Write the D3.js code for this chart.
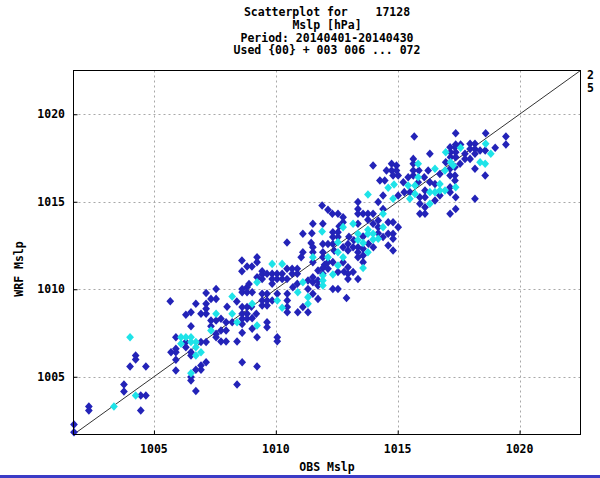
<!DOCTYPE html>
<html><head><meta charset="utf-8">
<script src="https://cdn.jsdelivr.net/npm/d3@7"></script>
<style>body{margin:0;background:#fff}svg{display:block}text{font-family:"DejaVu Sans Mono",monospace;font-weight:bold;font-size:11.5px;fill:#000}</style>
</head><body>
<script>
const titleLines = ["Scatterplot for    17128", "Mslp [hPa]", "Period: 20140401-20140430", "Used {00} + 003 006 ... 072"];
const xLabel = "OBS Mslp";
const yLabel = "WRF Mslp";
const tickValues = [1005, 1010, 1015, 1020];
const axisDomain = [1001.7, 1022.5];
const sideText = ["2", "5"];

// [OBS, WRF] pairs, dark blue series
const darkSeries = [
[1001.72,1002.27],[1001.72,1001.83],[1002.33,1003.30],[1002.33,1003.07],[1003.77,1004.56],[1003.77,1004.16],[1004.25,1006.21],[1004.25,1005.99],[1004.02,1005.59],[1004.67,1005.59],[1004.46,1003.93],[1004.67,1003.93],[1004.46,1003.07],[1005.67,1009.32],[1006.31,1008.54],[1006.52,1008.69],[1006.72,1009.17],[1006.52,1007.89],[1005.70,1006.40],[1005.90,1006.60],[1005.90,1006.40],[1005.90,1005.97],[1005.90,1005.36],[1005.90,1007.26],[1006.31,1006.98],[1006.31,1006.69],[1006.52,1006.40],[1006.52,1006.21],[1006.93,1006.98],[1007.14,1006.98],[1007.14,1005.83],[1006.93,1005.64],[1006.93,1005.40],[1006.72,1005.40],[1006.52,1004.98],[1006.52,1004.79],[1006.72,1004.18],[1007.14,1009.78],[1007.14,1009.17],[1007.14,1008.88],[1007.34,1009.45],[1007.55,1010.02],[1007.55,1009.45],[1006.93,1008.60],[1007.14,1008.60],[1007.34,1008.21],[1007.55,1008.21],[1007.75,1008.31],[1007.34,1007.89],[1007.55,1007.45],[1007.75,1007.64],[1007.96,1007.64],[1007.75,1007.01],[1007.96,1007.01],[1007.55,1007.26],[1008.41,1007.01],[1008.21,1008.12],[1007.96,1008.12],[1008.41,1004.56],[1008.62,1005.83],[1009.23,1005.59],[1008.62,1010.02],[1008.62,1009.83],[1008.82,1010.12],[1008.82,1009.83],[1009.03,1009.83],[1008.62,1008.98],[1008.82,1008.98],[1008.62,1008.60],[1008.82,1008.60],[1008.62,1008.31],[1008.82,1008.31],[1008.62,1008.02],[1008.62,1007.51],[1009.03,1008.35],[1009.03,1007.74],[1009.23,1007.26],[1009.64,1008.12],[1009.64,1007.83],[1009.44,1009.07],[1009.64,1009.07],[1009.44,1009.36],[1009.64,1009.36],[1009.44,1009.74],[1009.64,1009.74],[1009.85,1010.31],[1010.06,1009.74],[1010.06,1007.26],[1010.06,1007.03],[1010.47,1009.74],[1010.47,1009.36],[1010.47,1008.98],[1010.47,1008.69],[1009.85,1009.36],
[1008.00,1009.00],[1008.40,1009.30],[1009.00,1009.00],[1009.20,1008.60],[1008.90,1010.30],
[1011.90,1014.78],[1012.14,1014.54],[1012.32,1014.31],[1012.55,1014.31],[1012.76,1014.12],[1012.76,1013.83],[1013.37,1014.98],[1013.37,1014.59],[1013.37,1014.31],[1013.58,1014.31],[1013.78,1014.31],[1013.99,1014.31],[1014.20,1014.98],[1014.40,1014.59],[1014.40,1015.36],[1015.02,1015.36],[1014.20,1013.93],
[1011.52,1013.74],[1011.93,1013.74],[1011.11,1013.17],[1011.48,1013.20],[1010.46,1012.67],[1011.45,1012.65],[1012.34,1013.26],[1012.55,1013.26],[1012.34,1012.98],[1012.55,1012.98],[1013.37,1013.74],[1013.78,1013.97],[1013.99,1013.74],[1013.58,1013.01],[1014.20,1013.55],[1014.61,1013.83],[1014.81,1013.83],[1015.02,1013.55],[1014.40,1012.98],[1014.61,1013.17],[1014.81,1013.17],[1014.81,1012.88],[1012.14,1012.59],[1012.34,1012.59],[1011.93,1012.59],[1012.96,1012.59],
[1012.60,1013.60],[1013.00,1013.00],[1013.20,1012.80],[1012.40,1012.20],[1013.80,1012.60],[1014.00,1012.40],[1014.20,1013.20],[1012.00,1011.40],[1012.80,1011.00],
[1013.17,1012.40],[1013.37,1012.40],[1013.58,1012.31],[1013.58,1011.93],[1013.37,1012.12],[1012.96,1012.21],[1012.76,1012.40],[1014.61,1012.50],[1014.81,1012.21],[1011.52,1012.40],[1011.52,1012.12],[1011.11,1012.12],[1011.93,1012.12],[1011.93,1011.83],[1012.14,1011.55],[1012.34,1011.55],[1012.76,1011.55],[1012.96,1011.26],[1013.58,1011.55],[1013.37,1011.83],[1011.52,1011.55],[1011.04,1011.83],[1011.93,1011.22],[1011.73,1011.07],[1011.93,1010.88],[1012.14,1011.17],[1012.55,1010.98],[1012.96,1010.88],[1013.17,1010.98],
[1008.61,1011.64],[1008.61,1011.03],[1008.82,1011.30],[1009.02,1011.30],[1009.23,1011.83],[1009.23,1011.55],[1009.44,1011.03],[1009.44,1010.84],[1009.64,1010.88],[1009.85,1010.88],[1010.05,1010.88],[1010.26,1010.88],[1010.46,1011.17],[1010.67,1011.17],[1010.88,1011.17],[1010.67,1010.88],[1010.88,1010.88],[1009.85,1010.59],[1010.05,1010.59],[1010.26,1010.59],[1010.46,1010.59],[1009.44,1010.59],[1009.23,1010.69],
[1010.88,1010.31],[1011.32,1010.50],[1011.32,1010.02],[1011.52,1010.69],[1011.52,1010.40],[1011.73,1010.50],[1011.73,1010.21],[1012.34,1010.02],[1012.55,1010.02],[1012.96,1010.59],[1013.37,1010.59],[1012.90,1009.50],[1011.52,1009.74],[1011.73,1009.45],[1011.11,1008.98],[1010.70,1010.12],[1010.90,1008.69],[1011.32,1008.69],
[1015.68,1018.73],[1017.38,1018.92],[1018.61,1018.92],[1019.44,1018.73],[1019.44,1018.27],[1019.00,1018.08],[1017.38,1018.27],[1017.58,1018.27],[1017.17,1017.83],[1017.38,1017.83],[1017.17,1017.55],[1017.38,1017.55],[1016.97,1017.26],[1017.97,1018.31],[1018.17,1018.31],[1017.97,1018.02],[1018.17,1018.02],[1018.17,1017.74],[1018.38,1017.93],[1018.59,1017.93],[1018.17,1016.88],[1018.59,1016.50],[1017.76,1017.74],[1017.76,1017.45],[1017.97,1017.45],[1017.56,1017.17],[1017.15,1016.88],[1017.35,1016.98],[1017.15,1016.50],[1017.35,1016.50],[1017.35,1016.21],[1017.15,1015.83],[1017.15,1015.55],[1017.38,1015.26],[1017.38,1014.59],[1017.15,1014.31],[1016.73,1015.36],[1016.53,1015.07],[1016.12,1015.64],[1016.12,1015.26],[1016.12,1014.69],[1016.32,1016.12],[1016.53,1016.02],[1015.91,1015.26],[1015.91,1014.88],[1016.12,1014.31],[1015.91,1014.31],[1015.50,1015.55],[1015.27,1015.55],[1015.84,1016.12],[1016.09,1016.40],[1016.25,1016.78],[1016.73,1016.59],[1015.64,1017.45],[1015.64,1017.17],[1015.87,1016.78],[1015.64,1016.78],[1015.64,1016.50],[1015.43,1016.40],[1015.23,1016.12],[1016.32,1017.74],[1018.17,1015.17],[1014.75,1017.17],[1014.95,1017.07],[1014.75,1016.78],[1014.95,1016.78],[1014.54,1016.78],[1013.99,1017.07],[1014.27,1016.21],[1014.47,1016.21],[1014.81,1016.50],[1015.02,1016.50],[1017.15,1018.12],[1017.35,1018.12]
];

// [OBS, WRF] pairs, cyan series
const cyanSeries = [
[1003.36,1003.30],[1004.02,1007.26],[1004.25,1003.93],[1006.11,1007.26],[1006.31,1007.26],[1006.52,1007.26],[1006.11,1006.88],[1006.52,1006.98],[1006.72,1006.98],[1006.72,1006.69],[1006.93,1006.40],[1006.72,1006.21],[1007.34,1007.64],[1006.52,1005.20],[1007.55,1008.60],[1008.21,1009.59],[1008.21,1008.60],[1008.41,1008.12],[1009.23,1007.93],[1009.03,1009.17],[1010.06,1009.36],[1010.26,1008.94],[1009.23,1010.40],
[1013.78,1015.41],[1014.61,1015.80],[1014.85,1015.99],[1014.81,1015.17],[1014.40,1014.31],[1011.90,1013.30],[1012.76,1013.55],[1013.17,1013.74],[1013.37,1013.17],[1013.78,1013.17],[1013.99,1013.17],[1013.78,1013.40],[1014.40,1013.55],[1013.37,1012.82],[1013.58,1012.65],[1013.99,1012.84],[1014.20,1012.88],[1012.55,1012.69],[1013.78,1012.12],[1012.76,1011.83],[1012.55,1012.12],[1012.14,1011.83],[1012.55,1011.36],[1013.58,1011.22],[1011.52,1011.83],[1011.93,1010.79],[1012.34,1010.84],[1009.85,1011.45],[1010.26,1011.45],[1011.11,1010.40],[1011.93,1010.50],[1011.93,1010.21],[1010.90,1009.83],[1011.32,1009.55],[1011.32,1009.17],
[1018.61,1018.31],[1018.82,1017.74],[1017.58,1018.08],[1016.97,1017.83],[1017.17,1017.26],[1018.38,1017.26],[1018.59,1017.17],[1017.28,1017.07],[1016.94,1016.78],[1017.38,1015.83],[1016.94,1015.64],[1016.73,1015.64],[1016.53,1015.55],[1016.32,1015.55],[1016.32,1014.88],[1016.73,1016.02],[1015.71,1015.45],[1015.71,1015.93],[1015.50,1015.17],[1015.43,1015.93],[1015.84,1016.40],[1016.53,1016.88],[1015.84,1017.17]
];

const W = 600, H = 478;
const plot = {left: 73.5, right: 580.5, top: 70.5, bottom: 434.5};
const svg = d3.select("body").append("svg").attr("width", W).attr("height", H);

const x = d3.scaleLinear().domain(axisDomain).range([plot.left, plot.right]);
const y = d3.scaleLinear().domain(axisDomain).range([plot.bottom, plot.top]);

// grid
const grid = svg.append("g").attr("stroke", "#a8a8a8").attr("stroke-dasharray", "2,3").attr("stroke-width", 1);
grid.selectAll(".gx").data(tickValues).join("line")
  .attr("x1", d => Math.round(x(d)) + 0.5).attr("x2", d => Math.round(x(d)) + 0.5)
  .attr("y1", plot.top).attr("y2", plot.bottom);
grid.selectAll(".gy").data(tickValues).join("line")
  .attr("y1", d => Math.round(y(d)) + 0.5).attr("y2", d => Math.round(y(d)) + 0.5)
  .attr("x1", plot.left).attr("x2", plot.right);

// diagonal
svg.append("line")
  .attr("x1", x(axisDomain[0])).attr("y1", y(axisDomain[0]))
  .attr("x2", x(axisDomain[1])).attr("y2", y(axisDomain[1]))
  .attr("stroke", "#333").attr("stroke-width", 1);

// markers
const diamond = {draw(ctx, size) { const r = Math.sqrt(size) / 2; ctx.moveTo(0, -r * 1.1); ctx.lineTo(r, 0); ctx.lineTo(0, r * 1.1); ctx.lineTo(-r, 0); ctx.closePath(); }};
const sym = d3.symbol().type(diamond).size(60);
svg.append("g").selectAll("path").data(darkSeries).join("path")
  .attr("d", sym).attr("transform", d => `translate(${x(d[0])},${y(d[1])})`)
  .attr("fill", "#2323b8");
svg.append("g").selectAll("path").data(cyanSeries).join("path")
  .attr("d", sym).attr("transform", d => `translate(${x(d[0])},${y(d[1])})`)
  .attr("fill", "#1ee3e8");

// axes (inward ticks)
const xAxis = svg.append("g").attr("transform", `translate(0,${plot.bottom})`)
  .call(d3.axisBottom(x).tickValues(tickValues).tickSize(-4).tickFormat(""));
const yAxis = svg.append("g").attr("transform", `translate(${plot.left},0)`)
  .call(d3.axisLeft(y).tickValues(tickValues).tickSize(-4).tickFormat(""));
[xAxis, yAxis].forEach(a => { a.select(".domain").remove(); a.selectAll("line").attr("stroke", "#000"); });

svg.append("g").selectAll("text").data(tickValues).join("text")
  .attr("x", d => x(d)).attr("y", 453).attr("text-anchor", "middle").text(d => d);
svg.append("g").selectAll("text").data(tickValues).join("text")
  .attr("x", 65).attr("y", d => y(d) + 4).attr("text-anchor", "end").text(d => d);

// frame
svg.append("rect").attr("x", plot.left).attr("y", plot.top)
  .attr("width", plot.right - plot.left).attr("height", plot.bottom - plot.top)
  .attr("fill", "none").attr("stroke", "#000").attr("stroke-width", 1);

// titles
svg.append("g").selectAll("text").data(titleLines).join("text")
  .attr("x", (plot.left + plot.right) / 2).attr("y", (d, i) => 16 + i * 12.8)
  .attr("text-anchor", "middle").attr("xml:space", "preserve").style("white-space", "pre").text(d => d);
svg.append("text").attr("x", (plot.left + plot.right) / 2).attr("y", 471).attr("text-anchor", "middle").text(xLabel);
svg.append("text").attr("transform", "translate(23,269) rotate(-90)").attr("text-anchor", "middle").text(yLabel);
svg.append("g").selectAll("text").data(sideText).join("text")
  .attr("x", 587).attr("y", (d, i) => 79 + i * 13).text(d => d);

// bottom rule
svg.append("rect").attr("x", 0).attr("y", 475).attr("width", W).attr("height", 3).attr("fill", "#3b3bc6");
</script>
</body></html>
